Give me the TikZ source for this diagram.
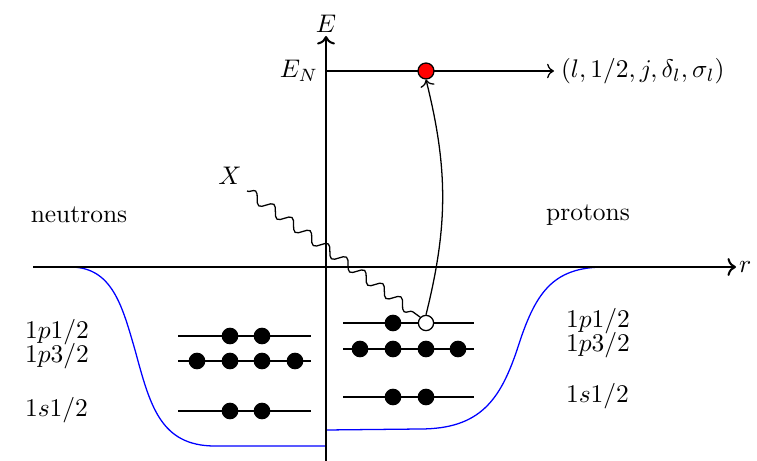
\documentclass[tikz,border=0pt]{standalone}
\usetikzlibrary{decorations.pathmorphing,arrows.meta}
\begin{document}
\begin{tikzpicture}[x=0.0138cm,y=-0.0138cm,
  axis/.style={line width=0.8pt},
  level/.style={line width=0.5pt},
  well/.style={blue,line width=0.5pt},
  fulldot/.style={circle,fill=black,inner sep=0pt,minimum size=0.23cm},
  holedot/.style={circle,draw=black,fill=white,line width=0.5pt,inner sep=0pt,minimum size=0.21cm},
  reddot/.style={circle,draw=black,fill=red,line width=0.5pt,inner sep=0pt,minimum size=0.22cm},
  lab/.style={inner sep=1pt}]
\useasboundingbox (0,0) rectangle (757,461);
% potential wells
\draw[well] (50,267) -- (70,267) .. controls (112,267) and (122,305) .. (135,350)
  .. controls (150,405) and (160,446) .. (215,446) -- (326,446);
\draw[well] (326,430) -- (420,429) .. controls (480,429) and (500,400) .. (517,350)
  .. controls (535,293) and (552,267) .. (605,267);
% axes
\coordinate (ybot) at (326,461);
\coordinate (ytop) at (326,36);
\coordinate (xl) at (33,267);
\coordinate (xr) at (736,267);
\draw[axis,->] (ybot) -- (ytop);
\draw[axis,->] (xl) -- (xr);
\node[lab,anchor=south] (E) at (ytop) {$E$};
\node[lab,anchor=west] (r) at (xr) {$r$};
% E_N line
\coordinate (en0) at (326,71);
\coordinate (en1) at (554,71);
\draw[level,->] (en0) -- (en1);
\node[lab,anchor=east] (EN) at (321,71) {$E_N$};
\node[lab,anchor=west] (state) at (558,71) {$(l,1/2,j,\delta_l,\sigma_l)$};
% labels
\node (neutrons) at (79,215) {neutrons};
\node (protons) at (588,215) {protons};
\node[lab,anchor=west] (nl1) at (22,332) {$1p1/2$};
\node[lab,anchor=west] (nl2) at (22,356) {$1p3/2$};
\node[lab,anchor=west] (nl3) at (22,410) {$1s1/2$};
\node[lab,anchor=west] (pl1) at (563,321) {$1p1/2$};
\node[lab,anchor=west] (pl2) at (563,345) {$1p3/2$};
\node[lab,anchor=west] (pl3) at (563,396) {$1s1/2$};
% neutron levels
\coordinate (na0) at (178,336); \coordinate (na1) at (311,336);
\coordinate (nb0) at (178,361); \coordinate (nb1) at (311,361);
\coordinate (nc0) at (178,411); \coordinate (nc1) at (311,411);
\draw[level] (na0) -- (na1);
\draw[level] (nb0) -- (nb1);
\draw[level] (nc0) -- (nc1);
\node[fulldot] (na2) at (230,336) {}; \node[fulldot] (na3) at (262,336) {};
\node[fulldot] (nb2) at (197,361) {}; \node[fulldot] (nb3) at (230,361) {};
\node[fulldot] (nb4) at (262,361) {}; \node[fulldot] (nb5) at (295,361) {};
\node[fulldot] (nc2) at (230,411) {}; \node[fulldot] (nc3) at (262,411) {};
% proton levels
\coordinate (pa0) at (343,323); \coordinate (pa1) at (474,323);
\coordinate (pb0) at (343,349); \coordinate (pb1) at (474,349);
\coordinate (pc0) at (343,397); \coordinate (pc1) at (474,397);
\draw[level] (pa0) -- (pa1);
\draw[level] (pb0) -- (pb1);
\draw[level] (pc0) -- (pc1);
\node[fulldot] (pa2) at (393,323) {}; \node[holedot] (hole) at (426,323) {};
\node[fulldot] (pb2) at (360,349) {}; \node[fulldot] (pb3) at (393,349) {};
\node[fulldot] (pb4) at (426,349) {}; \node[fulldot] (pb5) at (458,349) {};
\node[fulldot] (pc2) at (393,397) {}; \node[fulldot] (pc3) at (426,397) {};
% emitted nucleon
\node[reddot] (red) at (426,71) {};
% probe
\node[lab] (X) at (230,176) {$X$};
\coordinate (xs) at (247,191);
\draw[level,decorate,decoration={snake,segment length=0.31cm,amplitude=0.07cm,post length=2pt}] (xs) -- (hole.north west);
% excitation arrow
\draw[level,->] (hole.north) to[bend right=14] (red.south);
\end{tikzpicture}
\end{document}
